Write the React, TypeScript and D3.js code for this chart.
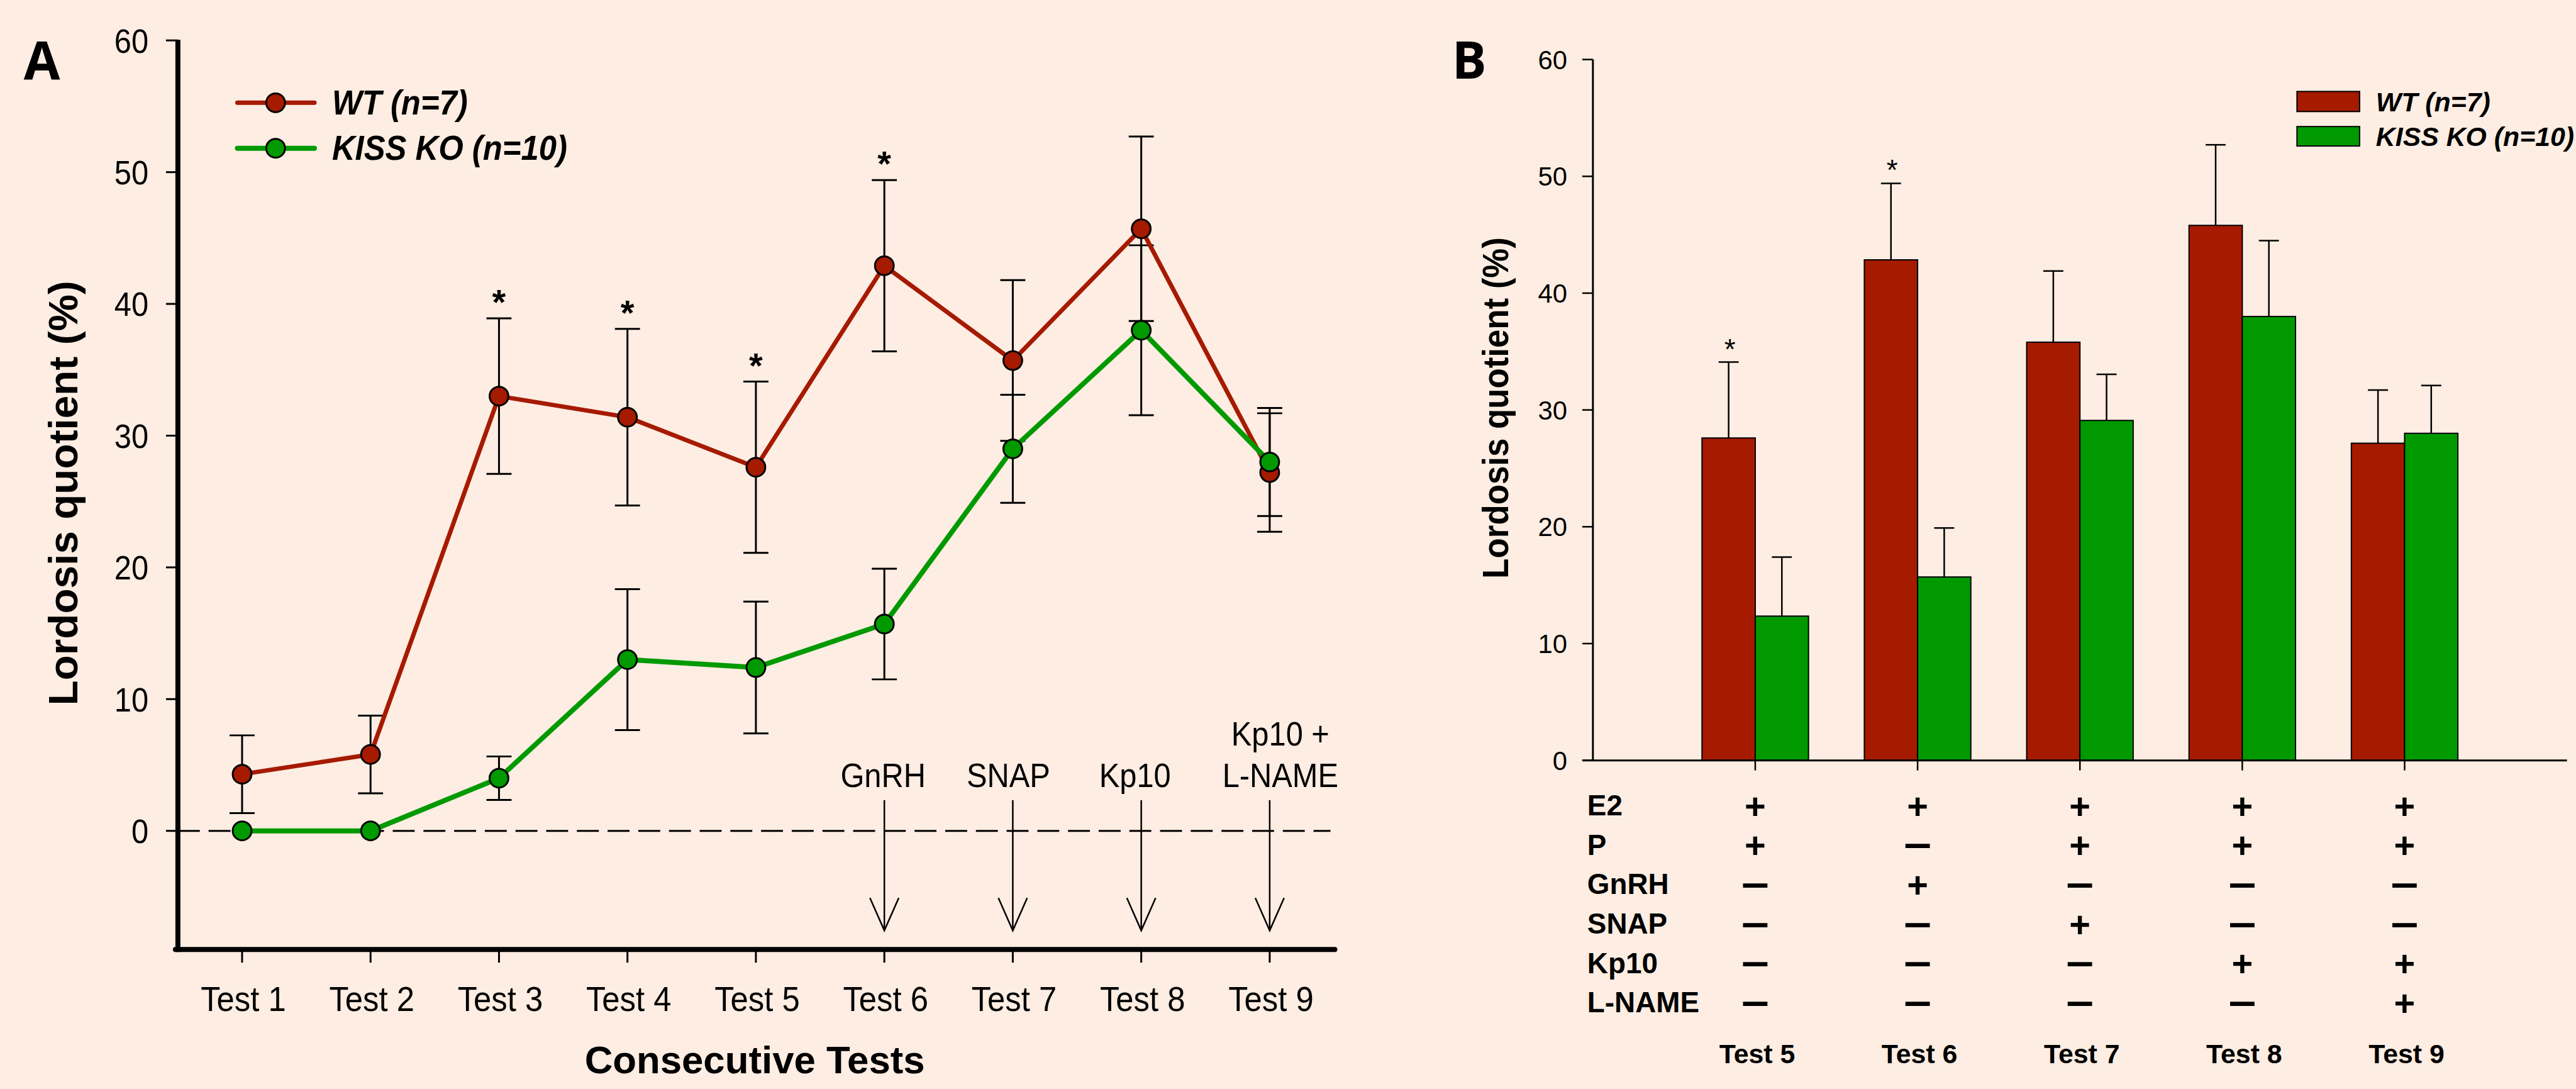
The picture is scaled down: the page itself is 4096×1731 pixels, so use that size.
import * as d3 from "d3";

// panel A data (mean, sem)
const tests = ["Test 1", "Test 2", "Test 3", "Test 4", "Test 5", "Test 6", "Test 7", "Test 8", "Test 9"];
const wtMean = [4.3, 5.8, 33.0, 31.4, 27.6, 42.9, 35.7, 45.7, 27.2];
const wtSem = [2.95, 2.95, 5.9, 6.7, 6.5, 6.5, 6.1, 7.0, 4.5];
const koMean = [0, 0, 4.0, 13.0, 12.4, 15.7, 29.0, 38.0, 28.0];
const koSem = [0, 0, 1.65, 5.35, 5.0, 4.2, 4.1, 6.45, 4.1];
const sigA = [false, false, true, true, true, true, false, false, false];
const treatTests = ["Test 6", "Test 7", "Test 8", "Test 9"];
const treatLabels = [["GnRH"], ["SNAP"], ["Kp10"], ["Kp10 +", "L-NAME"]];

// panel B data
const barTests = [5, 6, 7, 8, 9];
const barWT = [27.6, 42.85, 35.8, 45.8, 27.15];
const barWTSem = [6.5, 6.55, 6.1, 6.9, 4.55];
const barKO = [12.35, 15.7, 29.1, 38.0, 28.0];
const barKOSem = [5.05, 4.2, 3.95, 6.5, 4.1];
const sigB = [true, true, false, false, false];
const rowLabels = ["E2", "P", "GnRH", "SNAP", "Kp10", "L-NAME"];
const regimen = [
  ["+", "+", "-", "-", "-", "-"],
  ["+", "-", "+", "-", "-", "-"],
  ["+", "+", "-", "+", "-", "-"],
  ["+", "+", "-", "-", "+", "-"],
  ["+", "+", "-", "-", "+", "+"],
];

const RED = "#a61a00";
const GREEN = "#009a00";
const BG = "#fdede2";
const FONT = "'Liberation Sans', Arial, Helvetica, sans-serif";

function T({ x, y, size, children, anchor = "start", weight = "normal", italic = false, sy = 1, rotate = 0, family = FONT }: any) {
  return (
    <text
      transform={`translate(${x},${y}) rotate(${rotate}) scale(1,${sy})`}
      fontSize={size}
      textAnchor={anchor}
      fontWeight={weight}
      fontStyle={italic ? "italic" : "normal"}
      fontFamily={family}
      fill="#000"
    >
      {children}
    </text>
  );
}

function PanelA() {
  const x = d3.scalePoint().domain(tests).range([386.5, 2027]);
  const y = d3.scaleLinear().domain([0, 60]).range([1326, 64.5]);
  const axisY = y(-9);
  const line = d3.line<number>().x((v, i) => x(tests[i])!).y((v) => y(v));
  const cap = 20;

  return (
    <g>
      <T x={38} y={127} size={84} weight="bold" family="'Open Sans', sans-serif">A</T>

      {/* axes */}
      <line x1={284} x2={284} y1={y(60) - 1} y2={axisY + 4} stroke="#000" strokeWidth={8} />
      <line x1={280} x2={2131} y1={axisY} y2={axisY} stroke="#000" strokeWidth={8} strokeLinecap="round" />
      {y.ticks(6).map((t) => (
        <g key={t}>
          <line x1={265} x2={284} y1={y(t)} y2={y(t)} stroke="#000" strokeWidth={3} />
          <T x={237} y={y(t) + 19.5} size={49} sy={1.1} anchor="end">{t}</T>
        </g>
      ))}
      {tests.map((t) => (
        <g key={t}>
          <line x1={x(t)} x2={x(t)} y1={axisY} y2={axisY + 21} stroke="#000" strokeWidth={3} />
          <T x={x(t)! + 2} y={1613} size={51} sy={1.1} anchor="middle">{t}</T>
        </g>
      ))}
      <line x1={284} x2={2124} y1={y(0)} y2={y(0)} stroke="#000" strokeWidth={3} strokeDasharray="35,14" />

      {/* treatment arrows */}
      {treatTests.map((t, i) => {
        const cx = x(t)!;
        const dx = [-2, -7, -10, 17][i];
        const lines = treatLabels[i];
        return (
          <g key={t}>
            <line x1={cx} x2={cx} y1={1277} y2={1485} stroke="#000" strokeWidth={2.5} />
            <polyline points={`${cx - 23},${1433} ${cx},${1485} ${cx + 23},${1433}`} fill="none" stroke="#000" strokeWidth={2.5} />
            {lines.map((s, j) => (
              <T key={s} x={cx + dx} y={1256 - (lines.length - 1 - j) * 66} size={49} sy={1.08} anchor="middle">{s}</T>
            ))}
          </g>
        );
      })}

      {/* error bars */}
      {tests.map((t, i) => (
        <g key={"e" + t} stroke="#000" strokeWidth={3}>
          {wtSem[i] > 0 && (
            <>
              <line x1={x(t)} x2={x(t)} y1={y(wtMean[i] + wtSem[i])} y2={y(wtMean[i] - wtSem[i])} />
              <line x1={x(t)! - cap} x2={x(t)! + cap} y1={y(wtMean[i] + wtSem[i])} y2={y(wtMean[i] + wtSem[i])} />
              <line x1={x(t)! - cap} x2={x(t)! + cap} y1={y(wtMean[i] - wtSem[i])} y2={y(wtMean[i] - wtSem[i])} />
            </>
          )}
          {koSem[i] > 0 && (
            <>
              <line x1={x(t)} x2={x(t)} y1={y(koMean[i] + koSem[i])} y2={y(koMean[i] - koSem[i])} />
              <line x1={x(t)! - cap} x2={x(t)! + cap} y1={y(koMean[i] + koSem[i])} y2={y(koMean[i] + koSem[i])} />
              <line x1={x(t)! - cap} x2={x(t)! + cap} y1={y(koMean[i] - koSem[i])} y2={y(koMean[i] - koSem[i])} />
            </>
          )}
        </g>
      ))}

      {/* series */}
      <path d={line(wtMean)!} fill="none" stroke={RED} strokeWidth={7} strokeLinejoin="round" />
      {wtMean.map((v, i) => (
        <circle key={"w" + i} cx={x(tests[i])} cy={y(v)} r={15} fill={RED} stroke="#000" strokeWidth={3} />
      ))}
      <path d={line(koMean)!} fill="none" stroke={GREEN} strokeWidth={8} strokeLinejoin="round" />
      {koMean.map((v, i) => (
        <circle key={"k" + i} cx={x(tests[i])} cy={y(v)} r={15} fill={GREEN} stroke="#000" strokeWidth={3} />
      ))}

      {sigA.map((s, i) =>
        s ? (
          <T key={"s" + i} x={x(tests[i])} y={y(wtMean[i] + wtSem[i]) - 7} size={56} weight="bold" anchor="middle">*</T>
        ) : null
      )}

      {/* legend */}
      <line x1={379} x2={502} y1={164} y2={164} stroke={RED} strokeWidth={7} strokeLinecap="round" />
      <circle cx={440} cy={164} r={15} fill={RED} stroke="#000" strokeWidth={3} />
      <T x={530} y={183} size={51} sy={1.08} weight="bold" italic>WT (n=7)</T>
      <line x1={379} x2={502} y1={236.6} y2={236.6} stroke={GREEN} strokeWidth={8} strokeLinecap="round" />
      <circle cx={440} cy={236.6} r={15} fill={GREEN} stroke="#000" strokeWidth={3} />
      <T x={530} y={255} size={51} sy={1.08} weight="bold" italic>KISS KO (n=10)</T>

      <T x={123} y={787} size={66} weight="bold" anchor="middle" rotate={-90}>Lordosis quotient (%)</T>
      <T x={1205} y={1713} size={62} weight="bold" anchor="middle">Consecutive Tests</T>
    </g>
  );
}

function PanelB() {
  const x = d3.scaleLinear().domain([4, 10]).range([2543, 4098]);
  const y = d3.scaleLinear().domain([0, 60]).range([1213.5, 95]);
  const bw = 85;
  const cap = 16;
  const rowY = (i: number) => 1301.6 + i * 62.8;

  return (
    <g>
      <T x={2318} y={126} size={82} weight="bold" family="'Open Sans', sans-serif">B</T>

      {barTests.map((t, i) => (
        <g key={t}>
          <line x1={x(t) - bw / 2} x2={x(t) - bw / 2} y1={y(barWT[i])} y2={y(barWT[i] + barWTSem[i])} stroke="#000" strokeWidth={2.5} />
          <line x1={x(t) - bw / 2 - cap} x2={x(t) - bw / 2 + cap} y1={y(barWT[i] + barWTSem[i])} y2={y(barWT[i] + barWTSem[i])} stroke="#000" strokeWidth={2.5} />
          <line x1={x(t) + bw / 2} x2={x(t) + bw / 2} y1={y(barKO[i])} y2={y(barKO[i] + barKOSem[i])} stroke="#000" strokeWidth={2.5} />
          <line x1={x(t) + bw / 2 - cap} x2={x(t) + bw / 2 + cap} y1={y(barKO[i] + barKOSem[i])} y2={y(barKO[i] + barKOSem[i])} stroke="#000" strokeWidth={2.5} />
          <rect x={x(t) - bw} y={y(barWT[i])} width={bw} height={y(0) - y(barWT[i])} fill={RED} stroke="#000" strokeWidth={2} />
          <rect x={x(t)} y={y(barKO[i])} width={bw} height={y(0) - y(barKO[i])} fill={GREEN} stroke="#000" strokeWidth={2} />
          {sigB[i] && (
            <T x={x(t) - bw / 2 + 2} y={y(barWT[i] + barWTSem[i]) - 5} size={46} anchor="middle">*</T>
          )}
        </g>
      ))}

      {/* axes */}
      <line x1={2543} x2={2543} y1={y(60)} y2={y(0)} stroke="#000" strokeWidth={3} />
      <line x1={2526} x2={4098} y1={y(0)} y2={y(0)} stroke="#000" strokeWidth={3} />
      {y.ticks(6).map((t) => (
        <g key={t}>
          <line x1={2526} x2={2543} y1={y(t)} y2={y(t)} stroke="#000" strokeWidth={2.5} />
          <T x={2502} y={y(t) + 15} size={42} anchor="end">{t}</T>
        </g>
      ))}
      {barTests.map((t) => (
        <line key={t} x1={x(t)} x2={x(t)} y1={y(0)} y2={y(0) + 16} stroke="#000" strokeWidth={2.5} />
      ))}

      {/* treatment table */}
      {rowLabels.map((r, i) => (
        <T key={r} x={2534} y={rowY(i)} size={46} weight="bold">{r}</T>
      ))}
      {barTests.map((t, j) =>
        regimen[j].map((s, i) =>
          s === "+" ? (
            <T key={t + "-" + i} x={x(t)} y={rowY(i) - 15 + 20.5} size={58} weight="bold" anchor="middle">+</T>
          ) : (
            <T key={t + "-" + i} x={x(t)} y={rowY(i) - 15 + 19.5} size={39} sy={1.75} weight="bold" anchor="middle">—</T>
          )
        )
      )}
      {barTests.map((t) => (
        <T key={"l" + t} x={x(t) + 3} y={1697} size={43} weight="bold" anchor="middle">{"Test " + t}</T>
      ))}

      {/* legend */}
      <rect x={3667} y={146} width={100} height={32} fill={RED} stroke="#000" strokeWidth={2} />
      <T x={3793} y={178} size={43} weight="bold" italic>WT (n=7)</T>
      <rect x={3667} y={202} width={100} height={31} fill={GREEN} stroke="#000" strokeWidth={2} />
      <T x={3793} y={233} size={43} weight="bold" italic>KISS KO (n=10)</T>

      <T x={2408} y={651} size={53} sy={1.08} weight="bold" anchor="middle" rotate={-90}>Lordosis quotient (%)</T>
    </g>
  );
}

export default function App() {
  return (
    <svg width={4096} height={1731} style={{ position: "fixed", left: 0, top: 0, display: "block" }}>
      <rect width={4096} height={1731} fill={BG} />
      <g transform="scale(0.996)">
        <PanelA />
        <PanelB />
      </g>
    </svg>
  );
}
